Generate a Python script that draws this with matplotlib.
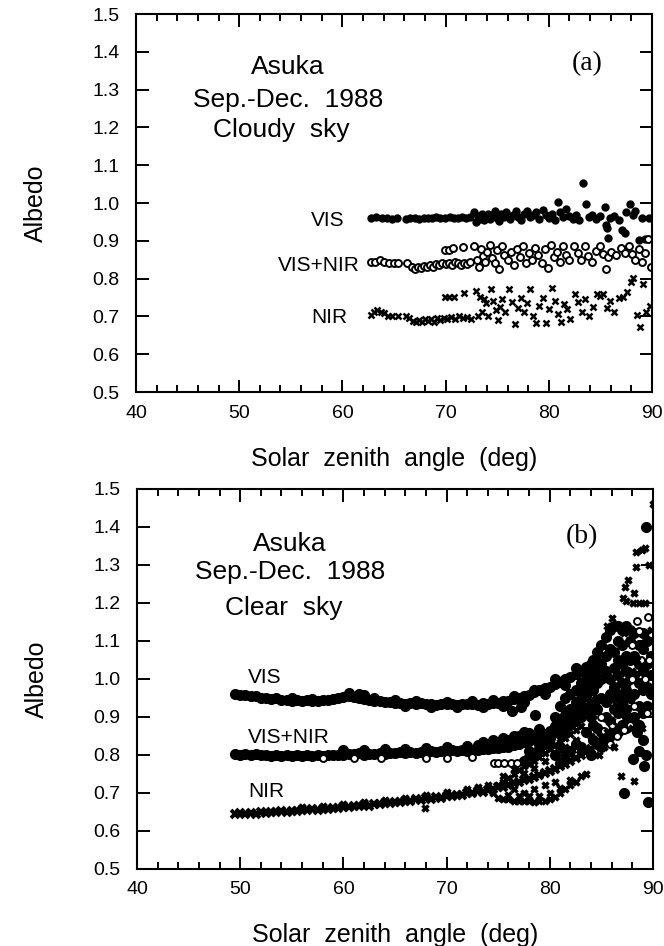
import matplotlib
matplotlib.use("Agg")
import matplotlib.pyplot as plt
from matplotlib.ticker import MultipleLocator

plt.rcParams['font.family'] = ['Liberation Sans', 'DejaVu Sans']

# ---------------- panel (a): cloudy sky ----------------
vis_a = [(62.8, 0.961), (63.3, 0.962), (63.8, 0.960), (64.3, 0.961), (64.8, 0.959), (65.3, 0.960),
         (66.2, 0.959), (66.6, 0.960), (67.0, 0.961), (67.4, 0.959), (67.9, 0.960), (68.3, 0.961),
         (68.7, 0.960), (69.1, 0.962), (69.5, 0.960), (69.9, 0.961), (70.4, 0.962), (70.8, 0.960),
         (71.2, 0.961), (71.6, 0.963), (72.0, 0.961), (72.4, 0.962),
         (72.8, 0.975), (72.9, 0.950), (73.1, 0.965), (73.3, 0.958), (73.5, 0.970), (73.7, 0.955),
         (73.9, 0.965), (74.1, 0.972), (74.3, 0.958), (74.6, 0.968), (74.8, 0.978), (75.0, 0.960),
         (75.2, 0.952), (75.4, 0.970), (75.7, 0.962), (75.9, 0.975), (76.2, 0.958), (76.5, 0.968),
         (76.8, 0.978), (77.0, 0.962), (77.3, 0.955), (77.6, 0.970), (77.9, 0.980), (78.2, 0.962),
         (78.5, 0.968), (78.8, 0.975), (79.1, 0.958), (79.4, 0.982), (79.7, 0.968), (80.0, 0.960),
         (80.3, 0.972), (80.6, 0.955), (80.9, 1.002), (81.1, 0.975), (81.4, 0.962), (81.7, 0.985),
         (82.0, 0.965), (82.3, 0.958), (82.6, 0.968), (82.9, 0.955), (83.35, 1.054), (83.6, 0.998),
         (83.9, 0.962), (84.2, 0.968), (84.6, 0.958), (85.0, 0.965), (85.4, 0.989), (85.5, 0.942),
         (85.6, 0.933), (85.7, 0.908), (85.9, 0.960), (86.3, 0.966), (86.8, 0.955), (87.1, 0.929),
         (87.4, 0.920), (87.5, 0.975), (87.9, 0.997), (88.2, 0.969), (88.4, 0.978), (88.7, 0.902),
         (89.0, 0.960), (89.3, 0.905), (89.7, 0.960)]

visnir_a = [(62.8, 0.843), (63.2, 0.845), (63.6, 0.848), (64.0, 0.844), (64.5, 0.840), (65.0, 0.842),
            (65.4, 0.840), (66.3, 0.840), (66.7, 0.832), (67.0, 0.826), (67.3, 0.830), (67.6, 0.828),
            (67.9, 0.833), (68.2, 0.830), (68.5, 0.835), (68.8, 0.832), (69.1, 0.838), (69.4, 0.835),
            (69.7, 0.840), (70.0, 0.838), (70.3, 0.842), (70.6, 0.836), (70.9, 0.845), (71.2, 0.840),
            (71.5, 0.835), (71.8, 0.842), (72.1, 0.838), (72.4, 0.845),
            (69.9, 0.876), (70.3, 0.877), (70.7, 0.880), (71.7, 0.883),
            (72.8, 0.885), (73.0, 0.850), (73.2, 0.830), (73.4, 0.878), (73.6, 0.860), (73.8, 0.845),
            (74.0, 0.870), (74.3, 0.888), (74.5, 0.855), (74.8, 0.840), (75.0, 0.875), (75.2, 0.825),
            (75.5, 0.885), (75.7, 0.862), (76.0, 0.848), (76.3, 0.870), (76.6, 0.835), (76.9, 0.878),
            (77.2, 0.858), (77.5, 0.885), (77.8, 0.842), (78.1, 0.868), (78.4, 0.850), (78.7, 0.882),
            (79.0, 0.862), (79.3, 0.840), (79.6, 0.878), (79.9, 0.828), (80.2, 0.889), (80.5, 0.858),
            (80.8, 0.870), (81.1, 0.845), (81.4, 0.885), (81.7, 0.862), (82.0, 0.848), (82.4, 0.885),
            (82.8, 0.868), (83.1, 0.850), (83.5, 0.885), (83.8, 0.860), (84.2, 0.845), (84.6, 0.872),
            (85.0, 0.885), (85.3, 0.866), (85.5, 0.825), (85.7, 0.858), (86.0, 0.870), (86.5, 0.862),
            (87.0, 0.880), (87.4, 0.868), (87.8, 0.885), (88.1, 0.865), (88.4, 0.848), (88.7, 0.878),
            (89.0, 0.845), (89.3, 0.868), (89.6, 0.905), (89.9, 0.832)]

nir_a = [(62.8, 0.703), (63.1, 0.712), (63.4, 0.718), (63.7, 0.712), (64.0, 0.710), (64.4, 0.702),
         (64.8, 0.700), (65.4, 0.700), (66.2, 0.702), (66.5, 0.697), (66.8, 0.688), (67.1, 0.685),
         (67.4, 0.690), (67.7, 0.686), (68.0, 0.692), (68.3, 0.688), (68.6, 0.694), (68.9, 0.686),
         (69.2, 0.695), (69.5, 0.690), (69.8, 0.696), (70.1, 0.692), (70.5, 0.698), (70.9, 0.694),
         (71.3, 0.700), (71.7, 0.696), (72.1, 0.698), (72.5, 0.694),
         (69.9, 0.752), (70.3, 0.752), (70.8, 0.752), (71.8, 0.761),
         (72.9, 0.768), (73.1, 0.700), (73.3, 0.752), (73.5, 0.712), (73.7, 0.745), (73.9, 0.735),
         (74.1, 0.700), (74.4, 0.772), (74.6, 0.740), (74.9, 0.718), (75.1, 0.690), (75.3, 0.725),
         (75.5, 0.745), (75.8, 0.712), (76.1, 0.772), (76.4, 0.738), (76.7, 0.680), (77.0, 0.722),
         (77.3, 0.748), (77.6, 0.712), (77.9, 0.735), (78.2, 0.772), (78.5, 0.700), (78.8, 0.682),
         (79.1, 0.728), (79.4, 0.748), (79.7, 0.682), (80.0, 0.720), (80.3, 0.775), (80.6, 0.740),
         (80.9, 0.706), (81.2, 0.685), (81.5, 0.732), (81.8, 0.720), (82.1, 0.692), (82.5, 0.760),
         (82.8, 0.738), (83.2, 0.712), (83.5, 0.745), (83.9, 0.700), (84.3, 0.725), (84.7, 0.760),
         (85.0, 0.755), (85.3, 0.758), (85.6, 0.722), (85.9, 0.742), (86.3, 0.712), (86.8, 0.750),
         (87.2, 0.752), (87.6, 0.765), (88.0, 0.790), (88.2, 0.802), (88.5, 0.705), (88.8, 0.672),
         (89.1, 0.785), (89.4, 0.712), (89.8, 0.728)]

# ---------------- panel (b): clear sky ----------------
band_sza_b = [49.5, 50.0, 50.5, 51.0, 51.5, 52.0, 52.5, 53.0, 53.5, 54.0,
              54.5, 55.0, 55.5, 56.0, 56.5, 57.0, 57.5, 58.0, 58.5, 59.0,
              59.5, 60.0, 60.5, 61.0, 61.5, 62.0, 62.5, 63.0, 63.5, 64.0,
              64.5, 65.0, 65.5, 66.0, 66.5, 67.0, 67.5, 68.0, 68.5, 69.0,
              69.5, 70.0, 70.5, 71.0, 71.5, 72.0, 72.5, 73.0, 73.5, 74.0,
              74.5, 75.0, 75.5, 76.0, 76.5, 77.0, 77.5, 78.0, 78.5, 79.0,
              79.5, 80.0, 80.5, 81.0, 81.5, 82.0, 82.5, 83.0, 83.5, 84.0,
              84.5]

vis_band_b = [0.960, 0.957, 0.958, 0.954, 0.955, 0.950, 0.951, 0.947, 0.949, 0.945,
              0.946, 0.943, 0.945, 0.942, 0.944, 0.941, 0.943, 0.944, 0.946, 0.948,
              0.951, 0.952, 0.956, 0.953, 0.950, 0.947, 0.945, 0.942, 0.941, 0.939,
              0.940, 0.937, 0.938, 0.935, 0.937, 0.934, 0.936, 0.933, 0.935, 0.932,
              0.934, 0.933, 0.934, 0.932, 0.934, 0.933, 0.935, 0.932, 0.936, 0.934,
              0.937, 0.938, 0.941, 0.943, 0.947, 0.950, 0.955, 0.959, 0.965, 0.970,
              0.975, 0.980, 0.986, 0.992, 0.999, 1.006, 1.014, 1.022, 1.031, 1.040,
              1.050]

visnir_band_b = [0.803, 0.801, 0.803, 0.800, 0.802, 0.799, 0.801, 0.798, 0.800, 0.797,
                 0.799, 0.797, 0.799, 0.798, 0.800, 0.797, 0.799, 0.798, 0.800, 0.799,
                 0.801, 0.800, 0.803, 0.802, 0.804, 0.801, 0.803, 0.802, 0.805, 0.803,
                 0.806, 0.804, 0.807, 0.805, 0.808, 0.806, 0.809, 0.807, 0.810, 0.808,
                 0.811, 0.809, 0.812, 0.810, 0.813, 0.811, 0.814, 0.813, 0.816, 0.815,
                 0.818, 0.818, 0.821, 0.822, 0.826, 0.829, 0.834, 0.838, 0.843, 0.849,
                 0.855, 0.861, 0.868, 0.875, 0.883, 0.891, 0.900, 0.910, 0.921, 0.932,
                 0.944]

nir_band_b = [0.646, 0.647, 0.645, 0.648, 0.646, 0.649, 0.648, 0.650, 0.649, 0.652,
              0.651, 0.653, 0.652, 0.655, 0.654, 0.657, 0.656, 0.659, 0.658, 0.661,
              0.660, 0.663, 0.662, 0.666, 0.665, 0.668, 0.667, 0.671, 0.670, 0.674,
              0.673, 0.677, 0.676, 0.680, 0.679, 0.683, 0.682, 0.686, 0.685, 0.689,
              0.688, 0.692, 0.691, 0.696, 0.695, 0.700, 0.699, 0.704, 0.703, 0.709,
              0.710, 0.715, 0.717, 0.722, 0.725, 0.730, 0.733, 0.738, 0.742, 0.747,
              0.752, 0.758, 0.764, 0.770, 0.777, 0.784, 0.791, 0.799, 0.808, 0.817,
              0.827]

# filled-circle points off the main VIS band
vis_extra_b = [(55.0, 0.950), (57.0, 0.948), (60.5, 0.962), (61.5, 0.960), (62.0, 0.957), (63.0, 0.950),
               (65.0, 0.944), (66.0, 0.928), (67.0, 0.942), (68.5, 0.927), (70.0, 0.940), (71.0, 0.927),
               (72.5, 0.941), (73.5, 0.926), (74.5, 0.945), (75.5, 0.930), (76.5, 0.955), (77.5, 0.940),
               (78.5, 0.972), (79.5, 0.960), (80.5, 1.000), (81.5, 0.985), (82.5, 1.030), (83.5, 1.015),
               (76.3, 0.915), (78.6, 0.905), (77.2, 0.925),
               (79.5, 0.850), (80.0, 0.862), (80.5, 0.875), (81.0, 0.890), (81.5, 0.905), (82.0, 0.920),
               (82.5, 0.940), (83.0, 0.960), (83.5, 0.980), (84.0, 1.000), (84.5, 1.020),
               (80.5, 0.800), (80.5, 0.900), (81.0, 0.780), (81.0, 0.820), (81.0, 0.930),
               (81.5, 0.800), (81.5, 0.860), (81.5, 0.950), (82.0, 0.810), (82.0, 0.880), (82.0, 0.960),
               (82.5, 0.830), (82.5, 0.890), (82.5, 0.970), (83.0, 0.820), (83.0, 0.900), (83.0, 0.990),
               (83.5, 0.860), (83.5, 0.920), (83.5, 1.000), (84.0, 0.800), (84.0, 0.900),
               (84.2, 0.840), (84.2, 0.880), (84.2, 0.930), (84.2, 0.970), (84.2, 1.010), (84.2, 1.050),
               (84.6, 0.830), (84.6, 0.870), (84.6, 0.920), (84.6, 0.990), (84.6, 1.030), (84.6, 1.070),
               (85.0, 0.820), (85.0, 0.860), (85.0, 0.950), (85.0, 1.000), (85.0, 1.040), (85.0, 1.090),
               (85.4, 0.840), (85.4, 0.900), (85.4, 0.940), (85.4, 1.020), (85.4, 1.060), (85.4, 1.110),
               (85.8, 0.850), (85.8, 0.890), (85.8, 0.960), (85.8, 1.000), (85.8, 1.080), (85.8, 1.130),
               (86.2, 0.870), (86.2, 0.920), (86.2, 0.980), (86.2, 1.030), (86.2, 1.070), (86.2, 1.140),
               (86.6, 0.860), (86.6, 0.910), (86.6, 0.960), (86.6, 1.010), (86.6, 1.050), (86.6, 1.100),
               (86.6, 1.140), (87.0, 0.880), (87.0, 0.940), (87.0, 0.990), (87.0, 1.040), (87.0, 1.090),
               (87.0, 1.130), (87.4, 0.870), (87.4, 0.920), (87.4, 0.970), (87.4, 1.020), (87.4, 1.060),
               (87.4, 1.140), (87.8, 0.890), (87.8, 0.950), (87.8, 1.000), (87.8, 1.050), (87.8, 1.100),
               (87.8, 1.130), (88.2, 0.900), (88.2, 0.960), (88.2, 1.010), (88.2, 1.060), (88.2, 1.120),
               (88.6, 0.880), (88.6, 0.930), (88.6, 0.990), (88.6, 1.040), (88.6, 1.090),
               (89.0, 0.910), (89.0, 0.970), (89.0, 1.020), (89.0, 1.080), (89.0, 1.120),
               (89.4, 0.930), (89.4, 0.980), (89.4, 1.040), (89.4, 1.100),
               (89.8, 0.960), (89.8, 1.010), (89.8, 1.060), (89.8, 1.120),
               (86.2, 0.950), (86.8, 0.920), (87.5, 0.900), (88.5, 0.860), (89.0, 0.840), (89.3, 0.800),
               (88.1, 0.790), (89.1, 0.770), (88.6, 0.810), (87.2, 0.700), (89.5, 0.675), (89.3, 1.400)]

# filled points that thicken the VIS+NIR band and its steep branch
visnir_dense_b = [(60.0, 0.812), (62.0, 0.813), (64.0, 0.815), (66.0, 0.816), (68.0, 0.818), (70.0, 0.820),
                  (72.0, 0.824), (73.0, 0.826), (74.0, 0.830), (75.0, 0.835), (76.0, 0.840), (77.0, 0.850),
                  (78.0, 0.858), (79.0, 0.868), (73.5, 0.835), (74.5, 0.840), (75.5, 0.845), (76.5, 0.850),
                  (77.5, 0.860), (74.5, 0.825), (76.5, 0.832), (78.5, 0.848),
                  (77.5, 0.785), (78.0, 0.795), (78.5, 0.805), (79.0, 0.815), (79.5, 0.830), (80.0, 0.845),
                  (80.5, 0.860), (81.0, 0.875), (81.5, 0.890), (82.0, 0.905), (82.5, 0.920), (83.0, 0.935),
                  (83.5, 0.955), (84.0, 0.975), (78.0, 0.810), (79.0, 0.830), (80.0, 0.830), (81.0, 0.855)]

# individual open circles
visnir_open_b = [(88.5, 1.153), (89.5, 1.162), (88.6, 1.127), (89.8, 1.118), (88.0, 1.090), (88.8, 1.050),
                 (89.2, 1.000), (87.2, 0.866), (85.3, 0.862), (86.5, 0.850), (87.8, 0.880), (88.2, 0.930),
                 (89.4, 0.910), (86.0, 0.880), (85.0, 0.900), (88.0, 1.000), (85.8, 0.830), (89.6, 1.050),
                 (74.6, 0.778), (75.0, 0.778), (75.6, 0.779), (76.2, 0.778), (76.8, 0.780),
                 (58.0, 0.792), (61.0, 0.793), (63.6, 0.792), (68.0, 0.792), (70.0, 0.792), (72.5, 0.795)]

nir_extra_b = [(74.5, 0.700), (75.0, 0.688), (75.5, 0.685), (76.0, 0.683), (76.5, 0.680), (77.0, 0.680),
               (77.5, 0.678), (78.0, 0.680), (78.5, 0.676), (79.0, 0.680), (79.5, 0.678), (80.0, 0.685),
               (80.5, 0.690), (81.0, 0.700), (81.5, 0.710), (82.0, 0.720), (82.5, 0.730), (83.0, 0.745),
               (83.5, 0.750), (76.0, 0.695), (77.0, 0.692), (78.0, 0.693), (79.0, 0.692), (80.0, 0.700),
               (81.0, 0.712), (82.0, 0.735), (75.5, 0.720), (76.5, 0.710), (77.5, 0.700), (78.5, 0.710),
               (79.5, 0.720), (80.5, 0.730),
               (75.0, 0.720), (75.5, 0.730), (76.0, 0.740), (76.5, 0.750), (77.0, 0.760), (77.5, 0.770),
               (78.0, 0.775), (78.5, 0.785), (79.0, 0.795), (79.5, 0.805), (80.0, 0.815), (80.5, 0.825),
               (81.0, 0.835), (81.5, 0.845), (82.0, 0.855), (82.5, 0.865), (83.0, 0.875),
               (75.5, 0.745), (76.5, 0.762), (77.5, 0.752), (78.5, 0.765), (79.5, 0.785), (80.5, 0.805),
               (81.5, 0.822), (82.5, 0.840),
               (56.0, 0.662), (58.0, 0.667), (60.0, 0.672), (62.0, 0.676), (64.0, 0.682), (66.0, 0.688),
               (67.9, 0.660), (68.0, 0.694), (70.0, 0.702), (72.0, 0.710), (73.0, 0.715), (74.0, 0.722),
               (84.0, 0.850), (84.5, 0.870), (85.0, 0.840), (85.5, 0.860), (86.0, 0.890), (86.5, 0.930),
               (87.0, 0.950), (87.5, 0.980), (88.0, 1.020), (88.5, 1.050), (89.0, 1.080), (89.5, 1.100),
               (84.8, 0.800), (85.3, 0.820), (86.2, 0.820), (88.0, 0.870), (88.9, 0.870), (86.9, 0.745),
               (88.2, 0.732), (87.1, 1.213), (87.3, 1.243), (87.6, 1.260), (88.2, 1.226), (88.35, 1.295),
               (88.35, 1.335), (88.9, 1.340), (89.2, 1.345), (88.1, 1.200), (88.6, 1.200), (89.2, 1.200),
               (87.4, 1.205), (89.97, 1.461), (89.6, 1.300), (89.8, 1.130), (86.5, 1.100), (87.2, 1.120),
               (85.5, 1.140), (86.0, 1.160)]


def xy(pairs):
    return [p[0] for p in pairs], [p[1] for p in pairs]


def style_axes(ax):
    ax.set_xlim(40, 90)
    ax.set_ylim(0.5, 1.5)
    ax.xaxis.set_major_locator(MultipleLocator(10))
    ax.xaxis.set_minor_locator(MultipleLocator(2))
    ax.yaxis.set_major_locator(MultipleLocator(0.1))
    ax.tick_params(which='both', direction='in', top=True, right=True, width=1.4)
    ax.tick_params(which='major', length=9, labelsize=14)
    ax.tick_params(which='minor', length=5)
    ax.tick_params(axis='x', pad=9)
    ax.tick_params(axis='y', pad=12)
    ax.yaxis.set_major_formatter(plt.FormatStrFormatter('%.1f'))
    for s in ax.spines.values():
        s.set_linewidth(1.5)
    ax.set_xlabel('Solar  zenith  angle  (deg)', fontsize=18, labelpad=18)
    ax.set_ylabel('Albedo', fontsize=18, labelpad=32)


fig = plt.figure(figsize=(6.64, 9.46), dpi=100)
ax_a = fig.add_axes([0.2048, 0.5856, 0.7771, 0.3996])
ax_b = fig.add_axes([0.2063, 0.0814, 0.7771, 0.4017])

# panel (a)
x, y = xy(vis_a)
ax_a.plot(x, y, 'o', ms=5, color='black', mec='black')
x, y = xy(visnir_a)
ax_a.plot(x, y, 'o', ms=5, mfc='white', mec='black', mew=1.4)
x, y = xy(nir_a)
ax_a.plot(x, y, 'x', ms=4.5, color='black', mew=1.8)
style_axes(ax_a)
ax_a.text(54.7, 1.36, 'Asuka', fontsize=19, ha='center', va='center')
ax_a.text(54.7, 1.273, 'Sep.-Dec.  1988', fontsize=19, ha='center', va='center')
ax_a.text(54.1, 1.193, 'Cloudy  sky', fontsize=19, ha='center', va='center')
ax_a.text(83.7, 1.37, '(a)', fontsize=20, ha='center', va='center', family='Liberation Serif')
ax_a.text(60.2, 0.953, 'VIS', fontsize=15, ha='right', va='center')
ax_a.text(61.7, 0.836, 'VIS+NIR', fontsize=15, ha='right', va='center')
ax_a.text(60.5, 0.696, 'NIR', fontsize=15, ha='right', va='center')

# panel (b)
ax_b.plot(band_sza_b, vis_band_b, 'o', ms=7, color='black')
ax_b.plot(band_sza_b, visnir_band_b, 'o', ms=7, color='black')
ax_b.plot(band_sza_b, nir_band_b, 'x', ms=5.5, color='black', mew=2.8)
x, y = xy(vis_extra_b)
ax_b.plot(x, y, 'o', ms=7, color='black')
x, y = xy(visnir_dense_b)
ax_b.plot(x, y, 'o', ms=7, color='black')
x, y = xy(visnir_open_b)
ax_b.plot(x, y, 'o', ms=5, mfc='white', mec='black', mew=1.4)
x, y = xy(nir_extra_b)
ax_b.plot(x, y, 'x', ms=5, color='black', mew=2.5)
style_axes(ax_b)
ax_b.text(54.8, 1.355, 'Asuka', fontsize=19, ha='center', va='center')
ax_b.text(54.8, 1.282, 'Sep.-Dec.  1988', fontsize=19, ha='center', va='center')
ax_b.text(54.2, 1.187, 'Clear  sky', fontsize=19, ha='center', va='center')
ax_b.text(83.1, 1.374, '(b)', fontsize=20, ha='center', va='center', family='Liberation Serif')
ax_b.text(50.75, 1.003, 'VIS', fontsize=15, ha='left', va='center')
ax_b.text(50.75, 0.847, 'VIS+NIR', fontsize=15, ha='left', va='center')
ax_b.text(50.75, 0.703, 'NIR', fontsize=15, ha='left', va='center')

fig.savefig('out.png', dpi=100)
